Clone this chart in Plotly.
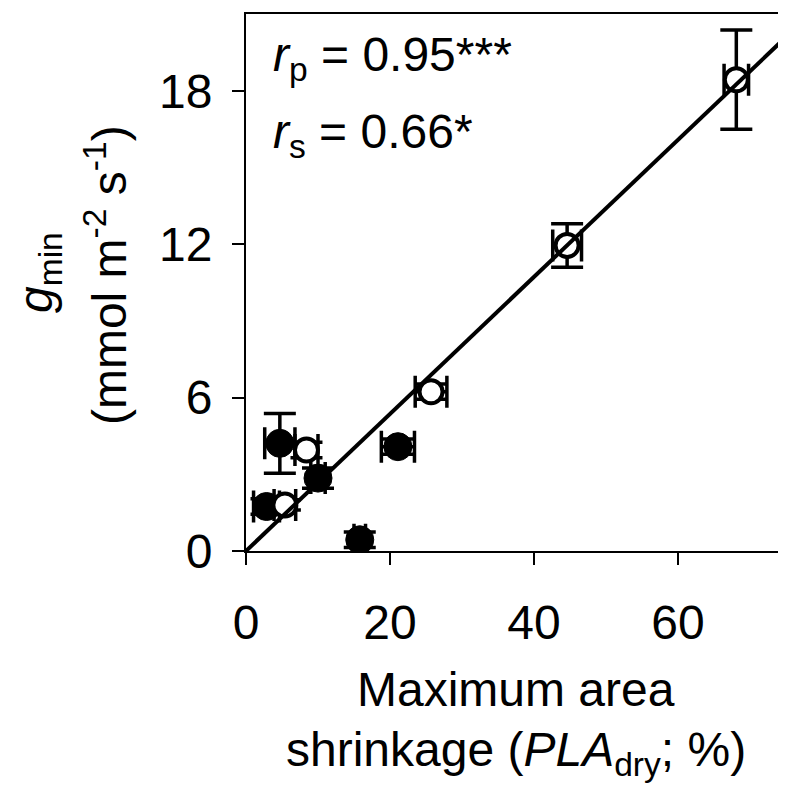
import plotly.graph_objects as go

# Open circles
open_x = [5.4, 8.4, 25.7, 44.6, 68.1]
open_y = [1.8, 3.95, 6.23, 11.95, 18.43]
open_xerr = [1.5, 1.6, 2.2, 2.0, 1.7]
open_yerr = [0.2, 0.3, 0.3, 0.85, 1.94]

# Filled circles
filled_x = [2.85, 4.7, 10.0, 15.8, 21.1]
filled_y = [1.74, 4.21, 2.85, 0.44, 4.08]
filled_xerr = [1.8, 2.1, 1.0, 0.8, 2.3]
filled_yerr = [0.3, 1.17, 0.4, 0.3, 0.3]

# Regression line (through origin)
fit_slope = 0.268
fit_intercept = 0.0
fit_x = [0, 75]
fit_y = [fit_intercept + fit_slope * v for v in fit_x]

x_ticks = [0, 20, 40, 60]
y_ticks = [0, 6, 12, 18]

FONT = "Liberation Sans, Arial, sans-serif"
FS = 48

fig = go.Figure()

err_style = dict(type="data", color="black", thickness=3.5, width=16, visible=True)

fig.add_trace(go.Scatter(
    x=filled_x, y=filled_y, mode="markers",
    error_x=dict(array=filled_xerr, **err_style),
    error_y=dict(array=filled_yerr, **err_style),
    marker=dict(symbol="circle", size=28, color="black", line=dict(color="black", width=1)),
    showlegend=False, hoverinfo="skip"))

fig.add_trace(go.Scatter(
    x=open_x, y=open_y, mode="markers",
    error_x=dict(array=open_xerr, **err_style),
    error_y=dict(array=open_yerr, **err_style),
    marker=dict(symbol="circle", size=23, color="white", line=dict(color="black", width=4)),
    showlegend=False, hoverinfo="skip"))

fig.add_trace(go.Scatter(
    x=fit_x, y=fit_y, mode="lines",
    line=dict(color="black", width=4),
    showlegend=False, hoverinfo="skip"))

axis_common = dict(
    showline=True, mirror=True, linecolor="black", linewidth=2,
    ticks="outside", ticklen=12, tickwidth=2, tickcolor="black",
    showgrid=False, zeroline=False,
    tickfont=dict(family=FONT, size=FS, color="black"),
)

fig.update_xaxes(range=[0, 75], tickvals=x_ticks, ticktext=[str(v) for v in x_ticks],
                 ticklabelstandoff=16, **axis_common)
fig.update_yaxes(range=[0, 21], tickvals=y_ticks, ticktext=[str(v) for v in y_ticks],
                 ticklabelstandoff=10, **axis_common)

ann_font = dict(family=FONT, size=FS, color="black")
PW = 540.0
PH = 539.0
fig.update_layout(
    width=786, height=786,
    margin=dict(l=238, r=8, t=4, b=243),
    paper_bgcolor="white", plot_bgcolor="white",
    font=dict(family=FONT, color="black"),
    annotations=[
        dict(text="<i>r</i><sub>p</sub> = 0.95***", xref="paper", yref="paper",
             x=0.046, y=0.918, xanchor="left", yanchor="middle", showarrow=False, font=ann_font),
        dict(text="<i>r</i><sub>s</sub> = 0.66*", xref="paper", yref="paper",
             x=0.046, y=0.775, xanchor="left", yanchor="middle", showarrow=False, font=ann_font),
        dict(text="Maximum area", xref="paper", yref="paper",
             x=0.5, y=-(682 - 543) / PH, xanchor="center", yanchor="middle", showarrow=False, font=ann_font),
        dict(text="shrinkage (<i>PLA</i><sub>dry</sub>; %)", xref="paper", yref="paper",
             x=0.5, y=-(746 - 543) / PH, xanchor="center", yanchor="middle", showarrow=False, font=ann_font),
        dict(text="<i>g</i><sub>min</sub>", xref="paper", yref="paper",
             x=(31 - 238) / PW, y=(543 - 264) / PH, xanchor="center", yanchor="middle",
             textangle=-90, showarrow=False, font=ann_font),
        dict(text="(mmol m<sup>-2</sup> s<sup>-1</sup>)", xref="paper", yref="paper",
             x=(98 - 238) / PW, y=(543 - 266) / PH, xanchor="center", yanchor="middle",
             textangle=-90, showarrow=False, font=ann_font),
    ],
)

fig.write_html("out.html")
